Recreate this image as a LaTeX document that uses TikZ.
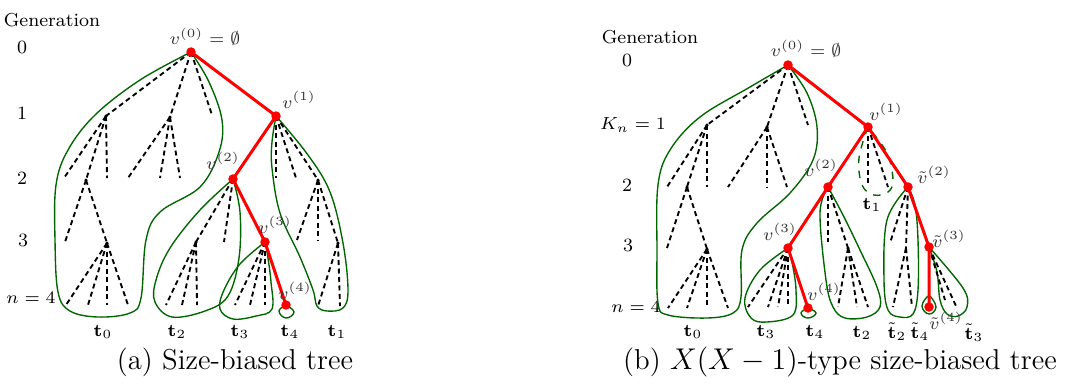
\documentclass[tikz,border=0pt]{standalone}
\usepackage{amsmath}
\tikzset{
  spine/.style={red, line width=1.2pt},
  edge/.style={dash pattern=on 2pt off 1.4pt, line width=0.75pt},
  contour/.style={green!40!black, line width=0.55pt},
  vlab/.style={black!80},
  tlab/.style={},
  genlab/.style={},
  caplab/.style={font=\fontsize{11.5}{13}\selectfont},
}
\newcommand{\rdot}[1]{\fill[red] (#1) circle[radius=1.9pt];}
\newcommand{\bdot}[1]{\fill (#1) circle[radius=0.7pt];}
\begin{document}
\begin{tikzpicture}[x=0.4pt, y=-0.4pt, font=\fontsize{7.5}{9}\selectfont]

    \useasboundingbox (0,0) rectangle (1068,383);

    % ---------------- (a) Size-biased tree ----------------

    % Generations
    \node[genlab] (gena) at (52,20) {Generation};
    \node[genlab] (ga0) at (22,47) {0};
    \node[genlab] (ga1) at (22,113) {1};
    \node[genlab] (ga2) at (22,178) {2};
    \node[genlab] (ga3) at (23,240) {3};
    \node[genlab] (ga4) at (31,298) {$n=4$};

    % Spine vertices
    \coordinate (a0) at (191,52);
    \coordinate (a1) at (276,116);
    \coordinate (a2) at (233,179);
    \coordinate (a3) at (265,242);
    \coordinate (a4) at (286,305);

    % Other vertices
    \coordinate (aA) at (106,116);
    \coordinate (aB) at (170,117);
    \coordinate (aL) at (212,115);
    \coordinate (aC) at (86,180);
    \coordinate (aD) at (107,243);
    \coordinate (aE) at (196,242);
    \coordinate (aF) at (318,180);
    \coordinate (aG) at (338,243);

    % Contours t_0, t_2, t_3, t_4, t_1
    \draw[contour] plot[smooth, tension=0.6] coordinates {(a0) (140,80) (95,115) (68,150) (56,185) (55,240) (58,292) (70,311) (98,317) (130,313) (141,298) (146,240) (160,212) (200,187) (219,152) (222,120) (209,82) (a0)};
    \draw[contour] plot[smooth, tension=0.6] coordinates {(a2) (200,210) (170,248) (156,280) (155,302) (172,317) (205,311) (228,296) (239,258) (240,212) (a2)};
    \draw[contour] plot[smooth, tension=0.6] coordinates {(a3) (240,264) (224,290) (220,309) (233,319) (256,316) (272,309) (271,282) (268,258) (a3)};
    \draw[contour] plot[smooth, tension=0.8] coordinates {(a4) (279,311) (286,318) (294,312) (a4)};
    \draw[contour] plot[smooth, tension=0.6] coordinates {(a1) (272,142) (272,168) (280,213) (300,257) (313,290) (317,306) (327,311) (343,308) (348,290) (343,243) (330,192) (308,155) (a1)};

    % Dashed edges
    \draw[edge] (a0) -- (aA);
    \draw[edge] (a0) -- (aB);
    \draw[edge] (a0) -- (aL);
    \foreach \x [count=\i] in {64,107} {\coordinate (aA\i) at (\x,178); \draw[edge] (aA) -- (aA\i);}
    \draw[edge] (aA) -- (aC);
    \foreach \x [count=\i] in {128,160,180} {\coordinate (aB\i) at (\x,178); \draw[edge] (aB) -- (aB\i);}
    \coordinate (aC1) at (65,242);
    \draw[edge] (aC) -- (aC1);
    \draw[edge] (aC) -- (aD);
    \foreach \x [count=\i] in {66,88,107,128} {\coordinate (aD\i) at (\x,305); \draw[edge] (aD) -- (aD\i);}
    \coordinate (aL2) at (224,242);
    \draw[edge] (a2) -- (aE);
    \draw[edge] (a2) -- (aL2);
    \foreach \x [count=\i] in {166,182,197} {\coordinate (aE\i) at (\x,305); \draw[edge] (aE) -- (aE\i);}
    \foreach \x [count=\i] in {235,250,265} {\coordinate (a3\i) at (\x,305); \draw[edge] (a3) -- (a3\i);}
    \foreach \x [count=\i] in {276,296} {\coordinate (a1\i) at (\x,178); \draw[edge] (a1) -- (a1\i);}
    \draw[edge] (a1) -- (aF);
    \foreach \x [count=\i] in {297,318} {\coordinate (aF\i) at (\x,240); \draw[edge] (aF) -- (aF\i);}
    \draw[edge] (aF) -- (aG);
    \foreach \x [count=\i] in {318,340} {\coordinate (aG\i) at (\x,306); \draw[edge] (aG) -- (aG\i);}
    \foreach \v in {aA,aB,aC,aD,aE,aF,aG} {\bdot{\v}}

    % Spine
    \draw[spine] (a0) -- (a1) -- (a2) -- (a3) -- (a4);
    \foreach \v in {a0,a1,a2,a3,a4} {\rdot{\v}}

    % Labels
    \node[vlab] (la0) at (205,37) {$v^{(0)}=\emptyset$};
    \node[vlab] (la1) at (299,100) {$v^{(1)}$};
    \node[vlab] (la2) at (223,161) {$v^{(2)}$};
    \node[vlab] (la3) at (275,225) {$v^{(3)}$};
    \node[vlab] (la4) at (295,291) {$v^{(4)}$};
    \node[tlab] (ta0) at (103,332) {$\mathbf{t}_0$};
    \node[tlab] (ta2) at (177,332) {$\mathbf{t}_2$};
    \node[tlab] (ta3) at (240,332) {$\mathbf{t}_3$};
    \node[tlab] (ta4) at (290,332) {$\mathbf{t}_4$};
    \node[tlab] (ta1) at (337,332) {$\mathbf{t}_1$};

    \node[caplab] (capa) at (235,362) {(a) Size-biased tree};

    % ---------------- (b) X(X-1)-type size-biased tree ----------------

    % Generations
    \node[genlab] (genb) at (650,37) {Generation};
    \node[genlab] (gb0) at (627,60) {0};
    \node[genlab] (gb1) at (633,125) {$K_n=1$};
    \node[genlab] (gb2) at (627,185) {2};
    \node[genlab] (gb3) at (628,245) {3};
    \node[genlab] (gb4) at (636,307) {$n=4$};

    % Spine vertices
    \coordinate (b0) at (788,65);
    \coordinate (b1) at (868,127);
    \coordinate (b2) at (828,187);
    \coordinate (b3) at (788,248);
    \coordinate (b4) at (808,308);
    \coordinate (bt2) at (908,187);
    \coordinate (bt3) at (929,247);
    \coordinate (bt4) at (929,307);

    % Other vertices
    \coordinate (bA) at (707,125);
    \coordinate (bB) at (767,127);
    \coordinate (bL) at (808,125);
    \coordinate (bC) at (687,187);
    \coordinate (bD) at (707,249);
    \coordinate (bE) at (848,248);
    \coordinate (bF) at (906,248);

    % Contours
    \draw[contour] plot[smooth, tension=0.6] coordinates {(b0) (750,87) (700,117) (670,150) (658,185) (657,250) (658,303) (668,315) (707,318) (733,313) (741,297) (742,250) (757,223) (790,193) (813,160) (817,127) (807,93) (b0)};
    \draw[contour] plot[smooth, tension=0.6] coordinates {(b3) (760,270) (745,298) (751,318) (767,322) (793,315) (796,290) (792,262) (b3)};
    \draw[contour] plot[smooth, tension=0.8] coordinates {(b4) (801,313) (808,318) (816,313) (b4)};
    \draw[contour] plot[smooth, tension=0.6] coordinates {(b2) (820,213) (826,280) (833,307) (845,318) (867,317) (880,307) (877,287) (860,250) (843,215) (b2)};
    \draw[contour] plot[smooth, tension=0.6] coordinates {(bt2) (887,220) (884,280) (888,310) (900,317) (913,314) (918,290) (918,240) (915,205) (bt2)};
    \draw[contour] plot[smooth, tension=0.8] coordinates {(928,296) (922,306) (929,314) (936,307) (930,296)};
    \draw[contour] plot[smooth, tension=0.6] coordinates {(bt3) (937,272) (940,300) (947,314) (958,316) (967,307) (963,288) (bt3)};
    \draw[contour, dashed] plot[smooth, tension=0.6] coordinates {(b1) (859,158) (862,185) (874,195) (888,192) (893,180) (887,153) (b1)};

    % Dashed edges
    \draw[edge] (b0) -- (bA);
    \draw[edge] (b0) -- (bB);
    \draw[edge] (b0) -- (bL);
    \foreach \x [count=\i] in {667,707} {\coordinate (bA\i) at (\x,187); \draw[edge] (bA) -- (bA\i);}
    \draw[edge] (bA) -- (bC);
    \foreach \x [count=\i] in {728,767,787} {\coordinate (bB\i) at (\x,187); \draw[edge] (bB) -- (bB\i);}
    \coordinate (bC1) at (667,248);
    \draw[edge] (bC) -- (bC1);
    \draw[edge] (bC) -- (bD);
    \foreach \x [count=\i] in {668,687,707,728} {\coordinate (bD\i) at (\x,308); \draw[edge] (bD) -- (bD\i);}
    \coordinate (bL2) at (828,242);
    \draw[edge] (b2) -- (bL2);
    \draw[edge] (b2) -- (bE);
    \foreach \x [count=\i] in {838,857,868} {\coordinate (bE\i) at (\x,307); \draw[edge] (bE) -- (bE\i);}
    \foreach \x [count=\i] in {748,768,778,788} {\coordinate (b3\i) at (\x,307); \draw[edge] (b3) -- (b3\i);}
    \coordinate (b11) at (868,183);
    \coordinate (b12) at (888,187);
    \draw[edge] (b1) -- (b11);
    \draw[edge] (b1) -- (b12);
    \coordinate (bt21) at (890,243);
    \draw[edge] (bt2) -- (bt21);
    \draw[edge] (bt2) -- (bF);
    \foreach \x [count=\i] in {893,912} {\coordinate (bF\i) at (\x,307); \draw[edge] (bF) -- (bF\i);}
    \coordinate (bt31) at (945,300);
    \coordinate (bt32) at (956,306);
    \draw[edge] (bt3) -- (bt31);
    \draw[edge] (bt3) -- (bt32);
    \foreach \v in {bA,bB,bC,bD,bE} {\bdot{\v}}

    % Spine
    \draw[spine] (b0) -- (b1) -- (b2) -- (b3) -- (b4);
    \draw[spine] (b1) -- (bt2) -- (bt3) -- (bt4);
    \foreach \v in {b0,b1,b2,b3,b4,bt2,bt3,bt4} {\rdot{\v}}

    % Labels
    \node[vlab] (lb0) at (806,49) {$v^{(0)}=\emptyset$};
    \node[vlab] (lb1) at (886,112) {$v^{(1)}$};
    \node[vlab] (lb2) at (821,168) {$v^{(2)}$};
    \node[vlab] (lbt2) at (934,175) {$\tilde v^{(2)}$};
    \node[vlab] (lb3) at (780,232) {$v^{(3)}$};
    \node[vlab] (lb4) at (824,292) {$v^{(4)}$};
    \node[vlab] (lbt3) at (949,239) {$\tilde v^{(3)}$};
    \node[vlab] (lbt4) at (946,321) {$\tilde v^{(4)}$};
    \node[tlab] (tb0) at (693,332) {$\mathbf{t}_0$};
    \node[tlab] (tb3) at (766,332) {$\mathbf{t}_3$};
    \node[tlab] (tb4) at (815,332) {$\mathbf{t}_4$};
    \node[tlab] (tb2) at (862,333) {$\mathbf{t}_2$};
    \node[tlab] (tbt2) at (897,332) {$\tilde{\mathbf{t}}_2$};
    \node[tlab] (tbt4) at (920,332) {$\tilde{\mathbf{t}}_4$};
    \node[tlab] (tbt3) at (974,333) {$\tilde{\mathbf{t}}_3$};
    \node[tlab] (tb1) at (872,205) {$\mathbf{t}_1$};

    \node[caplab] (capb) at (840,362) {(b) $X(X-1)$-type size-biased tree};

\end{tikzpicture}
\end{document}
